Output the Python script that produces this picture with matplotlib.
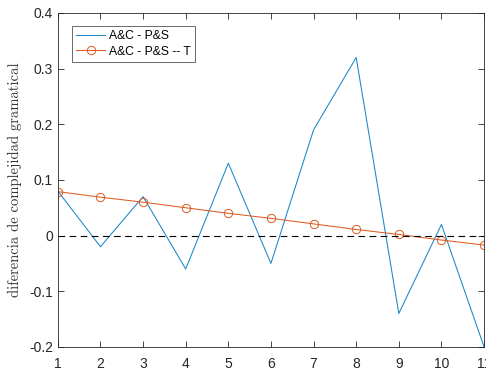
import matplotlib
matplotlib.use("Agg")
import matplotlib.pyplot as plt

x_vals = [1, 2, 3, 4, 5, 6, 7, 8, 9, 10, 11]
diff_vals = [0.08, -0.02, 0.07, -0.06, 0.13, -0.05, 0.19, 0.32, -0.14, 0.02, -0.20]
trend_vals = [0.079, 0.069, 0.060, 0.050, 0.040, 0.031, 0.021, 0.011, 0.002, -0.008, -0.017]
x_ticks = [1, 2, 3, 4, 5, 6, 7, 8, 9, 10, 11]
y_ticks = [-0.2, -0.1, 0, 0.1, 0.2, 0.3, 0.4]
y_tick_labels = ["-0.2", "-0.1", "0", "0.1", "0.2", "0.3", "0.4"]

plt.rcParams["font.family"] = ["Liberation Sans", "DejaVu Sans"]
axis_color = "#262626"

fig = plt.figure(figsize=(4.86, 3.71), dpi=100)
ax = fig.add_axes([0.119, 0.065, 0.877, 0.9])

ax.plot(x_vals, diff_vals, color="#1a86c8", linewidth=0.75, label="A&C - P&S")
ax.plot(x_vals, trend_vals, color="#dc5a22", linewidth=0.75, marker="o",
        markersize=6, markerfacecolor="none", markeredgewidth=0.7,
        label="A&C - P&S -- T")
ax.plot([x_vals[0], x_vals[-1]], [0, 0], color="black", linestyle=(0, (6, 4)),
        linewidth=0.8)

ax.set_xlim(1, 11)
ax.set_ylim(-0.2, 0.4)
ax.set_xticks(x_ticks)
ax.set_yticks(y_ticks)
ax.set_yticklabels(y_tick_labels)
ax.tick_params(direction="in", top=True, right=True, colors=axis_color,
               labelsize=10, length=4, width=0.6)
ax.tick_params(axis="x", pad=7)
for s in ax.spines.values():
    s.set_color(axis_color)
    s.set_linewidth(0.6)

ax.set_ylabel("diferencia de complejidad gramatical", fontname="cmr10",
              fontsize=10.5, color="#333333", labelpad=5)

leg = ax.legend(loc="upper left", bbox_to_anchor=(0.033, 0.962), fontsize=8.7,
                frameon=True, fancybox=False, edgecolor=axis_color,
                handlelength=2.4, borderpad=0.35, labelspacing=0.3,
                handletextpad=0.3, borderaxespad=0)
leg.get_frame().set_linewidth(0.6)

fig.savefig("out.png", dpi=100)
